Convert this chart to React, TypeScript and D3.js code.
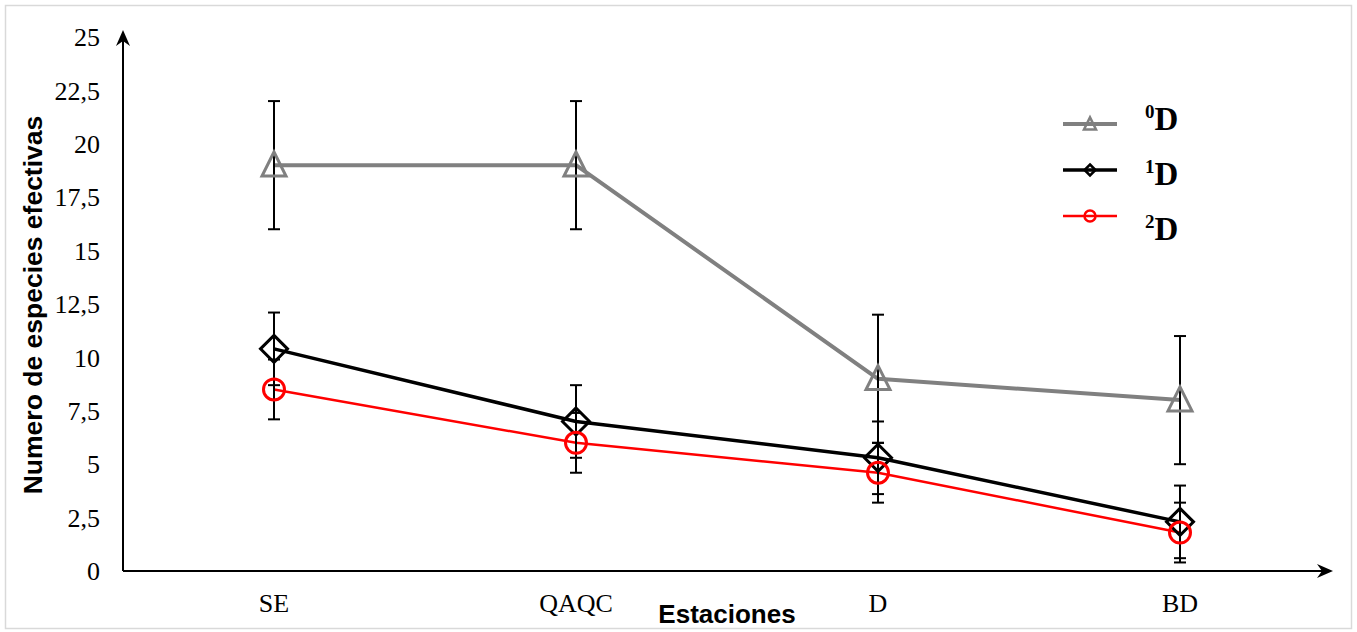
import React, { useEffect, useRef } from "react";
import * as d3 from "d3";

// stations on the x axis
const estaciones = ["SE", "QAQC", "D", "BD"];
// effective number of species, by Hill order
const d0 = [19, 19, 9, 8];
const d1 = [10.4, 7, 5.3, 2.3];
const d2 = [8.5, 6, 4.6, 1.8];
// error bar half widths
const err0 = [3, 3, 3, 3];
const err1 = [1.7, 1.7, 1.7, 1.7];
const err2 = [1.4, 1.4, 1.4, 1.4];
const yTicks = [0, 2.5, 5, 7.5, 10, 12.5, 15, 17.5, 20, 22.5, 25];

const W = 1357;
const H = 632;

function App() {
  const ref = useRef<SVGSVGElement>(null);

  useEffect(() => {
    const svg = d3.select(ref.current);
    svg.selectAll("*").remove();

    const x = d3.scaleBand().domain(estaciones).range([123, 1331]);
    const y = d3.scaleLinear().domain([0, 25]).range([571, 37]);
    const cx = (c: string) => (x(c) as number) + x.bandwidth() / 2;

    // outer frame
    svg.append("rect")
      .attr("x", 5.5).attr("y", 5.5)
      .attr("width", W - 11).attr("height", H - 9)
      .attr("fill", "white").attr("stroke", "#d9d9d9").attr("stroke-width", 1.5);

    // axes with arrow heads
    const x0 = 123, yBase = y(0);
    svg.append("line").attr("x1", x0).attr("x2", x0).attr("y1", yBase).attr("y2", 36)
      .attr("stroke", "black").attr("stroke-width", 2);
    svg.append("path")
      .attr("d", `M${x0},30 L${x0 + 7},46 L${x0},41 L${x0 - 7},46 Z`)
      .attr("fill", "black");
    svg.append("line").attr("x1", x0).attr("x2", 1326).attr("y1", yBase).attr("y2", yBase)
      .attr("stroke", "black").attr("stroke-width", 2);
    svg.append("path")
      .attr("d", `M1333,${yBase} L1317,${yBase - 7} L1322,${yBase} L1317,${yBase + 7} Z`)
      .attr("fill", "black");

    // y tick labels
    svg.append("g").selectAll("text").data(yTicks).join("text")
      .attr("x", 100).attr("y", d => y(d)).attr("dy", "0.35em")
      .attr("text-anchor", "end")
      .style("font-family", "'Liberation Serif', 'Times New Roman', serif")
      .style("font-size", "26px")
      .text(d => String(d).replace(".", ","));

    // category labels
    svg.append("g").selectAll("text").data(estaciones).join("text")
      .attr("x", d => cx(d)).attr("y", 612)
      .attr("text-anchor", "middle")
      .style("font-family", "'Liberation Serif', 'Times New Roman', serif")
      .style("font-size", "26px")
      .text(d => d);

    // axis titles
    svg.append("text")
      .attr("transform", "translate(42,305) rotate(-90)")
      .attr("text-anchor", "middle")
      .style("font-family", "'Liberation Sans', Arial, sans-serif")
      .style("font-weight", "bold").style("font-size", "26.5px")
      .text("Numero de especies efectivas");
    svg.append("text")
      .attr("x", 727).attr("y", 623)
      .attr("text-anchor", "middle")
      .style("font-family", "'Liberation Sans', Arial, sans-serif")
      .style("font-weight", "bold").style("font-size", "26px")
      .text("Estaciones");

    const series = [
      { name: "0", vals: d0, err: err0, color: "#808080", lw: 4, marker: "tri" },
      { name: "1", vals: d1, err: err1, color: "#000000", lw: 3.5, marker: "dia" },
      { name: "2", vals: d2, err: err2, color: "#ff0000", lw: 2.5, marker: "circ" },
    ];

    const markerPath = (m: string, s: number) => {
      if (m === "tri") return `M0,${-s * 0.55} L${s * 0.5},${s * 0.45} L${-s * 0.5},${s * 0.45} Z`;
      if (m === "dia") return `M0,${-s / 2} L${s / 2},0 L0,${s / 2} L${-s / 2},0 Z`;
      return d3.symbol(d3.symbolCircle, Math.PI * (s / 2) * (s / 2))() as string;
    };

    const line = d3.line<number>().x((_, i) => cx(estaciones[i])).y(d => y(d));

    series.forEach(s => {
      const g = svg.append("g");
      g.append("path").datum(s.vals).attr("d", line)
        .attr("fill", "none").attr("stroke", s.color).attr("stroke-width", s.lw)
        .attr("stroke-linejoin", "round");
    });

    // error bars
    series.forEach(s => {
      const eb = svg.append("g").attr("stroke", "black").attr("stroke-width", 2);
      s.vals.forEach((v, i) => {
        const px = cx(estaciones[i]);
        const lo = y(v - s.err[i]), hi = y(v + s.err[i]);
        eb.append("line").attr("x1", px).attr("x2", px).attr("y1", lo).attr("y2", hi);
        eb.append("line").attr("x1", px - 6).attr("x2", px + 6).attr("y1", lo).attr("y2", lo);
        eb.append("line").attr("x1", px - 6).attr("x2", px + 6).attr("y1", hi).attr("y2", hi);
      });
    });

    // markers
    const sizes: Record<string, number> = { tri: 24, dia: 27, circ: 21 };
    series.forEach(s => {
      svg.append("g").selectAll("path").data(s.vals).join("path")
        .attr("transform", (d, i) => `translate(${cx(estaciones[i])},${y(d)})`)
        .attr("d", markerPath(s.marker, sizes[s.marker]))
        .attr("fill", "none").attr("stroke", s.color).attr("stroke-width", 3);
    });

    // legend
    const legSizes: Record<string, number> = { tri: 12, dia: 11, circ: 11 };
    series.forEach((s, i) => {
      const ly = 124 + i * 46;
      const g = svg.append("g");
      g.append("line").attr("x1", 1063).attr("x2", 1117).attr("y1", ly).attr("y2", ly)
        .attr("stroke", s.color).attr("stroke-width", s.lw);
      g.append("path").attr("transform", `translate(1090,${ly})`)
        .attr("d", markerPath(s.marker, legSizes[s.marker]))
        .attr("fill", "none").attr("stroke", s.color).attr("stroke-width", 2.5);
      const t = g.append("text").attr("x", 1145).attr("y", 130 + i * 55)
        .style("font-family", "'Liberation Serif', 'Times New Roman', serif")
        .style("font-weight", "bold");
      t.append("tspan").attr("dy", -12).style("font-size", "19px").text(s.name);
      t.append("tspan").attr("dy", 12).style("font-size", "33px").text("D");
    });
  }, []);

  return (
    <svg ref={ref} width={W} height={H}
      style={{ position: "absolute", left: 0, top: 0, background: "white" }} />
  );
}

export default App;
